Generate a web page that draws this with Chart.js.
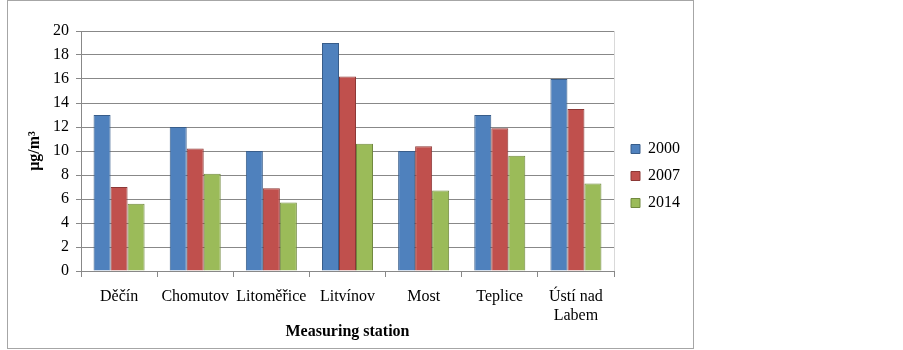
<!DOCTYPE html>
<html>
<head>
<meta charset="utf-8">
<script src="https://cdn.jsdelivr.net/npm/chart.js@4"></script>
<style>
  body { margin: 0; background: #fff; }
  #wrap { position: absolute; left: 0; top: 0; width: 903px; height: 350px; }
</style>
</head>
<body>
<div id="wrap"><canvas id="chart" width="903" height="350"></canvas></div>
<script>
// stations and yearly values (μg/m³)
const stations = ['Děčín', 'Chomutov', 'Litoměřice', 'Litvínov', 'Most', 'Teplice', ['Ústí nad', 'Labem']];
const values2000 = [13, 12, 10, 19, 10, 13, 16];
const values2007 = [7, 10.2, 6.9, 16.2, 10.4, 11.9, 13.5];
const values2014 = [5.6, 8.1, 5.7, 10.6, 6.7, 9.6, 7.3];
const yearLabels = ['2000', '2007', '2014'];

const FONT = "'Liberation Serif', 'Times New Roman', serif";

/*outer frame, right edge of plot, legend placement*/
const framePlugin = {
    id: 'frame',
    afterLayout(chart) {
        // move legend next to the plot like the original
        const lg = chart.legend;
        const dx = 620 - lg.left;
        const dy = -12;
        lg.left += dx; lg.right += dx;
        lg.top += dy; lg.bottom += dy;
    },
    beforeDraw(chart) {
        const c = chart.ctx;
        c.save();
        c.fillStyle = '#fff';
        c.fillRect(0, 0, chart.width, chart.height);
        c.strokeStyle = '#a6a6a6';
        c.lineWidth = 1;
        c.strokeRect(7.5, 0.5, 686, 348);
        c.restore();
    },
    afterDraw(chart) {
        const a = chart.chartArea;
        const c = chart.ctx;
        c.save();
        c.strokeStyle = '#d9d9d9';
        c.lineWidth = 1;
        c.beginPath();
        c.moveTo(Math.round(a.right) + 0.5, a.top);
        c.lineTo(Math.round(a.right) + 0.5, a.bottom);
        c.stroke();
        c.restore();
    }
};

new Chart(document.getElementById('chart'), {
    type: 'bar',
    data: {
        labels: stations,
        datasets: [
            { label: yearLabels[0], data: values2000, backgroundColor: '#4F81BD', borderColor: '#385D8A', borderWidth: 1 },
            { label: yearLabels[1], data: values2007, backgroundColor: '#C0504D', borderColor: '#8C3836', borderWidth: 1 },
            { label: yearLabels[2], data: values2014, backgroundColor: '#9BBB59', borderColor: '#71893F', borderWidth: 1 }
        ]
    },
    options: {
        responsive: false,
        animation: false,
        layout: { padding: { left: 21, top: 31, right: 219, bottom: 5 } },
        datasets: { bar: { categoryPercentage: 0.67, barPercentage: 1 } },
        plugins: {
            legend: {
                position: 'right',
                labels: {
                    boxWidth: 9,
                    boxHeight: 9,
                    padding: 11,
                    color: '#000',
                    font: { family: FONT, size: 16 }
                }
            },
            tooltip: { enabled: false }
        },
        scales: {
            x: {
                afterFit: s => { s.height = 74; },
                grid: { drawOnChartArea: false, offset: true, color: '#888', tickLength: 6 },
                border: { color: '#888' },
                ticks: { color: '#000', font: { family: FONT, size: 16 }, padding: 10, maxRotation: 0, autoSkip: false },
                title: { display: true, text: 'Measuring station', color: '#000', font: { family: FONT, size: 16, weight: 'bold' } }
            },
            y: {
                min: 0,
                max: 20,
                afterFit: s => { s.width = 60; },
                grid: { color: '#888', tickLength: 5 },
                border: { color: '#888' },
                ticks: { stepSize: 2, color: '#000', font: { family: FONT, size: 16 }, padding: 7 },
                title: { display: true, text: 'μg/m³', color: '#000', font: { family: FONT, size: 16, weight: 'bold' } }
            }
        }
    },
    plugins: [framePlugin]
});
</script>
</body>
</html>
